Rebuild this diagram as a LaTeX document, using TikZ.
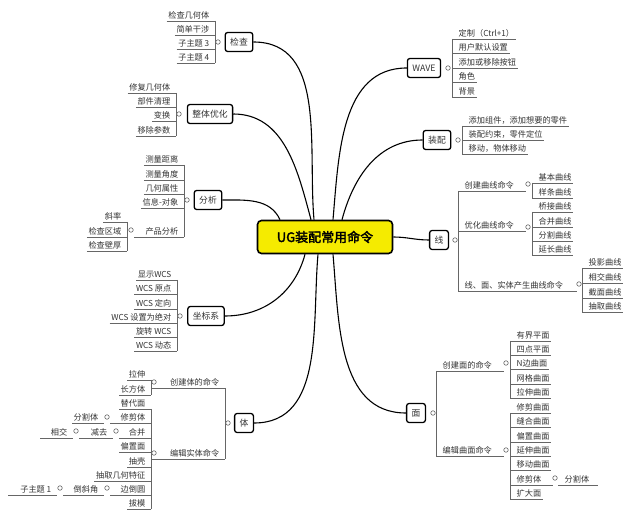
\documentclass[tikz,border=0pt]{standalone}
\usepackage{fontspec}
\setmainfont{Noto Sans CJK SC}
\newfontfamily\cjkbold{Noto Sans CJK SC}[FakeBold=2.5]
\tikzset{
  leaf/.style={inner xsep=1.5pt,inner ysep=1.2pt,font=\fontsize{8.2}{9}\selectfont,text=black!80},
  ul/.style={draw=black!60,line width=0.7pt},
  knob/.style={circle,draw=black!60,fill=white,inner sep=0pt,minimum size=4.5pt,line width=0.6pt},
  topic/.style={draw=black,line width=1.3pt,rounded corners=2.5pt,fill=white,minimum height=19pt,inner xsep=5pt,font=\fontsize{8.8}{10}\selectfont,text=black!80},
  central/.style={draw=black,line width=1.6pt,rounded corners=4pt,fill={rgb,255:red,245;green,235;blue,0},minimum width=135pt,minimum height=33pt,font=\cjkbold\fontsize{13}{14}\selectfont},
  conn/.style={draw=black,line width=1.1pt}
}
\newcommand\LL[4]{\node[leaf,anchor=south east] (#1) at (#2-4,#3) {#4}; \draw[ul] (#1.south west) -- (#2,#3);}
\newcommand\RL[4]{\node[leaf,anchor=south west] (#1) at (#2+5,#3) {#4}; \draw[ul] (#2,#3) -- (#1.south east);}
\begin{document}
\begin{tikzpicture}[x=1pt,y=-1pt]
\useasboundingbox[fill=white] (0,0) rectangle (640,518);
% central
\node[central] (c) at (325,237) {UG装配常用命令};
% left topics
\node[topic] (t1) at (239,42) {检查};
\node[topic] (t2) at (210,114) {整体优化};
\node[topic] (t3) at (208,200) {分析};
\node[topic] (t4) at (206,316) {坐标系};
\node[topic] (t5) at (244,423) {体};
% right topics
\node[topic] (r1) at (424,68) {WAVE};
\node[topic] (r2) at (437,140) {装配};
\node[topic] (r3) at (439,240) {线};
\node[topic] (r4) at (416,413) {面};
% connectors
\draw[conn] ([xshift=-11pt]c.north) to[out=95,in=0] (t1.east);
\draw[conn] ([xshift=-14pt]c.north) to[out=105,in=0] (t2.east);
\draw[conn] ([xshift=-45pt]c.north) to[out=115,in=0] (t3.east);
\draw[conn] ([xshift=-20pt]c.south) to[out=-105,in=0] (t4.east);
\draw[conn] ([xshift=-7pt]c.south) to[out=-95,in=0] (t5.east);
\draw[conn] ([xshift=8pt]c.north) to[out=85,in=180] (r1.west);
\draw[conn] ([xshift=17pt]c.north) to[out=75,in=180] (r2.west);
\draw[conn] (c.east) to[out=0,in=180] (r3.west);
\draw[conn] ([xshift=8pt]c.south) to[out=-85,in=180] (r4.west);
% 检查
\LL{a1}{215}{21}{检查几何体}\LL{a2}{215}{35}{简单干涉}\LL{a3}{215}{49}{子主题 3}\LL{a4}{215}{63}{子主题 4}
\draw[ul] (215,21) -- (215,63); \node[knob] (k1) at (218,42) {};
% 整体优化
\LL{b1}{176}{93}{修复几何体}\LL{b2}{176}{107}{部件清理}\LL{b3}{176}{121}{变换}\LL{b4}{176}{136}{移除参数}
\draw[ul] (176,93) -- (176,136); \node[knob] (k2) at (179,114) {};
% 分析
\LL{d1}{184}{165}{测量距离}\LL{d2}{184}{180}{测量角度}\LL{d3}{184}{194}{几何属性}\LL{d4}{184}{208}{信息-对象}\LL{d5}{184}{237}{产品分析}
\draw[ul] (184,165) -- (184,237); \node[knob] (k3) at (187,200) {};
\draw[ul] (d5.south west) -- (134,237); \node[knob] (k3b) at (131,230) {};
\LL{e1}{127}{222}{斜率}\LL{e2}{127}{237}{检查区域}\LL{e3}{127}{251}{检查壁厚}
\draw[ul] (127,222) -- (127,251);
% 坐标系
\LL{f1}{177}{280}{显示WCS}\LL{f2}{177}{294}{WCS 原点}\LL{f3}{177}{309}{WCS 定向}\LL{f4}{177}{323}{WCS 设置为绝对}\LL{f5}{177}{337}{旋转 WCS}\LL{f6}{177}{351}{WCS 动态}
\draw[ul] (177,280) -- (177,351); \node[knob] (k4) at (180,316) {};
% 体
\LL{g1}{225}{388}{创建体的命令}\LL{g2}{225}{459}{编辑实体命令}
\draw[ul] (225,388) -- (225,459); \node[knob] (k5) at (228,423) {};
\draw[ul] (g1.south west) -- (152,388); \draw[ul] (g2.south west) -- (152,459);
\node[knob] (k5a) at (154,382) {}; \node[knob] (k5b) at (154,453) {};
\LL{h1}{151}{380}{拉伸}\LL{h2}{151}{395}{长方体}\draw[ul] (151,380) -- (151,395);
\LL{i1}{151}{409}{替代面}\LL{i2}{151}{423}{修剪体}\LL{i3}{151}{438}{合并}\LL{i4}{151}{452}{偏置面}
\LL{i5}{151}{467}{抽壳}\LL{i6}{151}{481}{抽取几何特征}\LL{i7}{151}{495}{边倒圆}\LL{i8}{151}{509}{拔模}
\draw[ul] (151,409) -- (151,509);
\draw[ul] (i2.south west) -- (110,423); \node[knob] (k6) at (107,417) {}; \LL{j1}{104}{423}{分割体}
\draw[ul] (i3.south west) -- (119,438); \node[knob] (k7) at (116,431) {}; \LL{j2}{113}{438}{减去}
\draw[ul] (j2.south west) -- (79,438); \node[knob] (k8) at (76,431) {}; \LL{j3}{73}{438}{相交}
\draw[ul] (j3.south west) -- (40,438);
\draw[ul] (i7.south west) -- (110,495); \node[knob] (k9) at (107,488) {}; \LL{j4}{104}{495}{倒斜角}
\draw[ul] (j4.south west) -- (63,495); \node[knob] (k10) at (60,488) {}; \LL{j5}{57}{495}{子主题 1}
\draw[ul] (j5.south west) -- (8,495);
% WAVE
\RL{m1}{452}{39}{定制（Ctrl+1）}\RL{m2}{452}{53}{用户默认设置}\RL{m3}{452}{68}{添加或移除按钮}\RL{m4}{452}{82}{角色}\RL{m5}{452}{97}{背景}
\draw[ul] (452,39) -- (452,97); \node[knob] (k11) at (448,68) {};
% 装配
\RL{n1}{462}{126}{添加组件，添加想要的零件}\RL{n2}{462}{140}{装配约束，零件定位}\RL{n3}{462}{154}{移动，物体移动}
\draw[ul] (462,126) -- (462,154); \node[knob] (k12) at (458,140) {};
% 线
\RL{p1}{458}{191}{创建曲线命令}\RL{p2}{458}{231}{优化曲线命令}\RL{p3}{458}{291}{线、面、实体产生曲线命令}
\draw[ul] (458,191) -- (458,291); \node[knob] (k13) at (455,240) {};
\draw[ul] (p1.south east) -- (526,191); \node[knob] (k14) at (528,184) {};
\draw[ul] (p2.south east) -- (526,231); \node[knob] (k15) at (528,227) {};
\draw[ul] (p3.south east) -- (577,291); \node[knob] (k16) at (579,284) {};
\RL{q1}{532}{183}{基本曲线}\RL{q2}{532}{198}{样条曲线}\draw[ul] (532,183) -- (532,198);
\RL{q3}{532}{212}{桥接曲线}\RL{q4}{532}{227}{合并曲线}\RL{q5}{532}{241}{分割曲线}\RL{q6}{532}{255}{延长曲线}\draw[ul] (532,212) -- (532,255);
\RL{q7}{582}{268}{投影曲线}\RL{q8}{582}{283}{相交曲线}\RL{q9}{582}{298}{截面曲线}\RL{q10}{582}{312}{抽取曲线}\draw[ul] (582,268) -- (582,312);
% 面
\RL{s1}{436}{371}{创建面的命令}\RL{s2}{436}{456}{编辑曲面命令}
\draw[ul] (436,371) -- (436,456); \node[knob] (k17) at (433,413) {};
\draw[ul] (s1.south east) -- (504,371); \node[knob] (k18) at (506,363) {};
\draw[ul] (s2.south east) -- (504,456); \node[knob] (k19) at (506,450) {};
\RL{u1}{510}{341}{有界平面}\RL{u2}{510}{355}{四点平面}\RL{u3}{510}{369}{N边曲面}\RL{u4}{510}{384}{网格曲面}\RL{u5}{510}{398}{拉伸曲面}
\draw[ul] (510,341) -- (510,398);
\RL{v1}{510}{413}{修剪曲面}\RL{v2}{510}{427}{缝合曲面}\RL{v3}{510}{442}{偏置曲面}\RL{v4}{510}{456}{延伸曲面}\RL{v5}{510}{470}{移动曲面}\RL{v6}{510}{485}{修剪体}\RL{v7}{510}{499}{扩大面}
\draw[ul] (510,413) -- (510,499);
\draw[ul] (v6.south east) -- (553,485); \node[knob] (k20) at (555,478) {}; \RL{w1}{558}{485}{分割体}
\draw[ul] (w1.south east) -- (598,485);
\end{tikzpicture}
\end{document}
